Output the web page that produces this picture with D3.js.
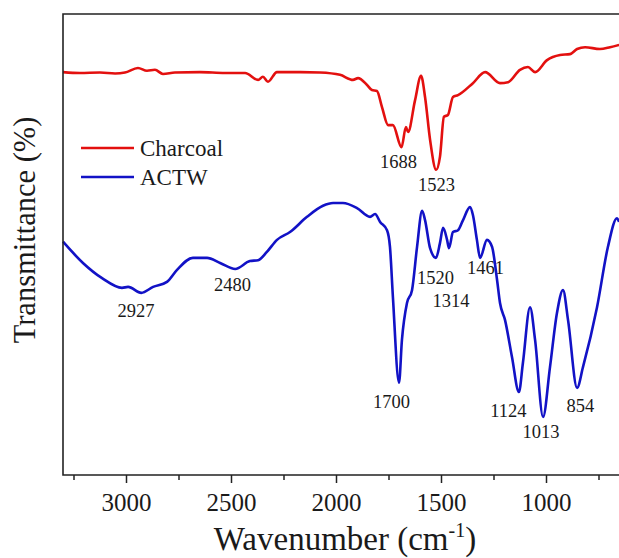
<!DOCTYPE html>
<html>
<head>
<meta charset="utf-8">
<script src="https://cdn.jsdelivr.net/npm/d3@7"></script>
<style>
  body { margin: 0; background: #fff; }
  svg text { font-family: "Liberation Serif", "Times New Roman", serif; fill: #1a1a1a; }
</style>
</head>
<body>
<svg id="chart" width="619" height="558"></svg>
<script>
// FTIR spectra, wavenumber (cm-1) vs transmittance (%)
var charcoalWave = [3300, 3219, 3124, 3052, 3005, 2943, 2900, 2862, 2824, 2767, 2648, 2529, 2433, 2371, 2348, 2324, 2281, 2171, 2076, 1981, 1919, 1895, 1852, 1829, 1805, 1781, 1752, 1729, 1688, 1667, 1657, 1624, 1595, 1576, 1552, 1523, 1505, 1486, 1467, 1443, 1419, 1348, 1290, 1219, 1181, 1124, 1086, 1052, 995, 933, 886, 852, 814, 743, 695, 652];
var charcoalT = [87.4, 87.2, 87.3, 87.1, 87.3, 88.3, 87.7, 87.9, 87.0, 87.3, 87.4, 87.2, 87.2, 85.7, 86.4, 85.3, 87.4, 87.4, 87.3, 86.8, 85.7, 86.1, 84.6, 83.5, 83.3, 79.8, 75.9, 75.9, 71.1, 75.5, 74.4, 81.2, 86.6, 82.0, 72.7, 66.2, 69.0, 77.7, 78.1, 82.0, 82.4, 85.0, 87.4, 85.0, 85.2, 87.9, 88.5, 87.4, 90.0, 91.1, 91.3, 92.4, 92.8, 92.4, 92.8, 93.3];

var actwWave = [3300, 3205, 3114, 3019, 2990, 2927, 2871, 2805, 2757, 2681, 2614, 2552, 2480, 2410, 2371, 2329, 2281, 2219, 2138, 2062, 2014, 1967, 1900, 1838, 1814, 1790, 1757, 1743, 1729, 1700, 1686, 1662, 1638, 1614, 1590, 1576, 1552, 1524, 1505, 1490, 1471, 1462, 1443, 1419, 1395, 1362, 1348, 1329, 1314, 1281, 1257, 1233, 1219, 1195, 1162, 1129, 1110, 1076, 1052, 1014, 981, 948, 919, 895, 852, 824, 757, 705, 662, 652];
var actwT = [50.6, 46.0, 42.7, 40.6, 40.8, 39.5, 40.8, 41.9, 44.5, 47.1, 47.1, 46.0, 44.7, 46.4, 46.6, 48.4, 51.0, 52.7, 56.0, 58.4, 59.0, 59.0, 57.9, 56.0, 56.6, 54.9, 53.1, 49.5, 38.6, 20.0, 29.3, 37.3, 40.1, 49.5, 57.3, 55.3, 49.2, 47.1, 50.3, 53.6, 51.0, 49.2, 52.7, 53.1, 55.3, 58.1, 56.4, 51.0, 47.1, 51.0, 49.5, 42.3, 37.3, 33.6, 25.6, 18.0, 24.3, 36.4, 29.3, 12.6, 23.4, 35.1, 40.1, 33.6, 18.9, 23.4, 36.4, 49.5, 55.7, 54.9];

// peak labels: text, wavenumber of label centre, transmittance of label baseline
var peakText = ["1688", "1523", "2927", "2480", "1700", "1520", "1314", "1461", "1124", "1013", "854"];
var peakWave = [1702, 1521, 2952, 2493, 1736, 1526, 1452, 1288, 1179, 1024, 836];
var peakT    = [66.6, 61.6, 34.3, 39.9, 14.5, 41.4, 36.4, 43.6, 12.6, 8.0, 13.7];

var seriesNames = ["Charcoal", "ACTW"];
var seriesColors = ["#e3100f", "#1212c6"];

var majorTicks = [3000, 2500, 2000, 1500, 1000];
var minorTicks = [3250, 2750, 2250, 1750, 1250, 750];

var margin = {top: 14, left: 63, bottom: 475};
var svg = d3.select("#chart");

var xScale = d3.scaleLinear().domain([3300, 600]).range([margin.left, 630]);
var yScale = d3.scaleLinear().domain([0, 100]).range([margin.bottom, margin.top]);

// peak labels drawn first so the curves sit on top, as in the original
svg.append("g").selectAll("text")
  .data(peakText)
  .enter().append("text")
    .attr("x", function(d, i) { return xScale(peakWave[i]); })
    .attr("y", function(d, i) { return yScale(peakT[i]); })
    .attr("text-anchor", "middle")
    .attr("font-size", 18.5)
    .text(function(d) { return d; });

var line = d3.line()
  .x(function(d) { return xScale(d[0]); })
  .y(function(d) { return yScale(d[1]); })
  .curve(d3.curveMonotoneX);

var series = [d3.zip(charcoalWave, charcoalT), d3.zip(actwWave, actwT)];

svg.append("g").selectAll("path")
  .data(series)
  .enter().append("path")
    .attr("d", line)
    .attr("fill", "none")
    .attr("stroke", function(d, i) { return seriesColors[i]; })
    .attr("stroke-width", 2.6)
    .attr("stroke-linejoin", "round");

// frame (right side runs off the picture)
svg.append("path")
  .attr("d", "M" + 640 + "," + margin.top + "H" + margin.left + "V" + margin.bottom + "H" + 640)
  .attr("fill", "none")
  .attr("stroke", "#222")
  .attr("stroke-width", 1.6);

// bottom axis
var xAxis = d3.axisBottom(xScale).tickValues(majorTicks).tickSize(8).tickFormat(d3.format("d"));
var gX = svg.append("g")
  .attr("transform", "translate(0," + margin.bottom + ")")
  .call(xAxis);
gX.select(".domain").remove();
gX.selectAll(".tick line").attr("stroke", "#222").attr("stroke-width", 1.5);
gX.selectAll(".tick text")
  .attr("font-size", 25)
  .attr("dy", null)
  .attr("y", 36);

var xMinor = d3.axisBottom(xScale).tickValues(minorTicks).tickSize(5).tickFormat("");
var gXm = svg.append("g")
  .attr("transform", "translate(0," + margin.bottom + ")")
  .call(xMinor);
gXm.select(".domain").remove();
gXm.selectAll(".tick line").attr("stroke", "#222").attr("stroke-width", 1.5);

// axis titles
var xTitle = svg.append("text")
  .attr("x", 345)
  .attr("y", 550)
  .attr("text-anchor", "middle")
  .attr("font-size", 33);
xTitle.append("tspan").text("Wavenumber (cm");
xTitle.append("tspan").attr("font-size", 20).attr("dy", -13).text("-1");
xTitle.append("tspan").attr("dy", 13).text(")");

svg.append("text")
  .attr("transform", "translate(35,230) rotate(-90)")
  .attr("text-anchor", "middle")
  .attr("font-size", 30.5)
  .text("Transmittance (%)");

// legend
var legend = svg.append("g").selectAll("g")
  .data(seriesNames)
  .enter().append("g")
    .attr("transform", function(d, i) { return "translate(81," + (148 + i * 29) + ")"; });

legend.append("line")
  .attr("x1", 0).attr("x2", 53)
  .attr("stroke", function(d, i) { return seriesColors[i]; })
  .attr("stroke-width", 2.6);

legend.append("text")
  .attr("x", 59)
  .attr("y", 8)
  .attr("font-size", 23)
  .text(function(d) { return d; });
</script>
</body>
</html>
